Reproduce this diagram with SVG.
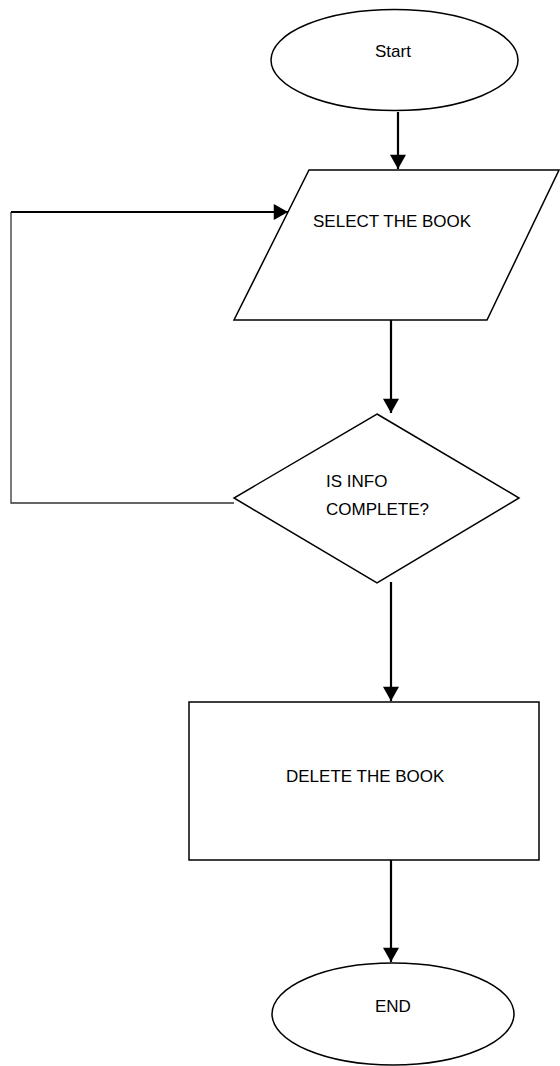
<svg xmlns="http://www.w3.org/2000/svg" width="560" height="1066" viewBox="0 0 560 1066">
<style>
.shape{fill:#fff;stroke:#000;stroke-width:1.5}
.lbl{font-family:"Liberation Sans",Arial,sans-serif;font-size:17px;fill:#000}
.arr{fill:none;stroke:#000;stroke-width:2.2}
.thin{fill:none;stroke:#333;stroke-width:1.3}
</style>
<defs>
<marker id="ah" markerUnits="userSpaceOnUse" markerWidth="18" markerHeight="16" refX="16" refY="9" orient="auto" viewBox="0 0 16 18">
<path d="M0,0 L16,9 L0,18 Z" fill="#000"/>
</marker>
</defs>
<rect width="560" height="1066" fill="#fff"/>
<g id="connectors">
<line class="arr" x1="398" y1="112" x2="398" y2="169" marker-end="url(#ah)"/>
<line class="arr" x1="391" y1="320" x2="391" y2="413" marker-end="url(#ah)"/>
<line class="arr" x1="391" y1="582" x2="391" y2="701" marker-end="url(#ah)"/>
<line class="arr" x1="391" y1="860" x2="391" y2="962" marker-end="url(#ah)"/>
<polyline class="thin" points="234,503 11,503 11,212"/>
<line class="arr" x1="11" y1="212" x2="288" y2="212" marker-end="url(#ah)"/>
</g>
<g id="start">
<ellipse class="shape" cx="394.5" cy="60" rx="123.5" ry="50.5"/>
<text class="lbl" x="375" y="57">Start</text>
</g>
<g id="select">
<polygon class="shape" points="309,170 559,170 487,320 234,320"/>
<text class="lbl" x="313" y="227">SELECT THE BOOK</text>
</g>
<g id="decision">
<polygon class="shape" points="377,414 519,498 377,583 234,498"/>
<text class="lbl" x="326" y="487">IS INFO</text>
<text class="lbl" x="326" y="515">COMPLETE?</text>
</g>
<g id="delete">
<rect class="shape" x="189" y="702" width="350" height="158"/>
<text class="lbl" x="286" y="782">DELETE THE BOOK</text>
</g>
<g id="end">
<ellipse class="shape" cx="393" cy="1014" rx="121" ry="51"/>
<text class="lbl" x="375" y="1012">END</text>
</g>
</svg>
